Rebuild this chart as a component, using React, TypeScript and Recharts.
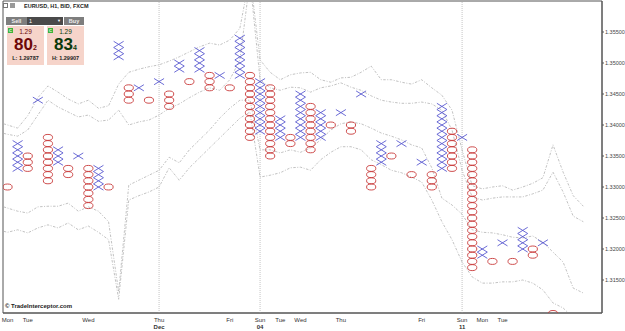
import React from "react";
import {
  ComposedChart,
  XAxis,
  YAxis,
  Scatter,
  Line,
  ReferenceLine,
  ReferenceArea,
} from "recharts";

// point & figure, EURUSD H1, box 0.001
const BOX = 0.001;

const colType = [
  "O", "X", "O", "X", "O", "X", "O", "X", "O", "X",
  "O", "X", "O", "X", "O", "X", "O", "X", "O", "X",
  "O", "X", "O", "X", "O", "X", "O", "X", "O", "X",
  "O", "X", "O", "X", "O", "X", "O", "X", "O", "X",
  "O", "X", "O", "X", "O", "X", "O", "X", "O", "X",
  "O", "X", "O", "X", "O",
];
const colLow = [
  1.33, 1.333, 1.333, 1.344, 1.331, 1.334, 1.332, 1.335, 1.327, 1.33,
  1.33, 1.351, 1.344, 1.346, 1.344, 1.347, 1.343, 1.349, 1.347, 1.349,
  1.346, 1.348, 1.346, 1.348, 1.338, 1.339, 1.335, 1.338, 1.337, 1.338,
  1.336, 1.338, 1.34, 1.342, 1.339, 1.345, 1.33, 1.334, 1.335, 1.337,
  1.332, 1.334, 1.33, 1.333, 1.333, 1.338, 1.317, 1.319, 1.318, 1.321,
  1.318, 1.32, 1.319, 1.321, 1.3096,
];
const colHigh = [
  1.33, 1.337, 1.335, 1.344, 1.338, 1.336, 1.333, 1.335, 1.333, 1.333,
  1.33, 1.353, 1.346, 1.346, 1.344, 1.347, 1.345, 1.35, 1.347, 1.352,
  1.348, 1.348, 1.346, 1.354, 1.348, 1.347, 1.346, 1.341, 1.338, 1.345,
  1.343, 1.342, 1.34, 1.342, 1.34, 1.345, 1.333, 1.337, 1.335, 1.337,
  1.332, 1.334, 1.332, 1.343, 1.339, 1.338, 1.336, 1.32, 1.318, 1.321,
  1.318, 1.323, 1.32, 1.321, 1.3096,
];

// band lines, one value per column starting at column -1
const bandStart = -1;
const upperOuter = [
  1.3405, 1.34, 1.3395, 1.3415, 1.3444, 1.3463, 1.3453, 1.3442, 1.3434, 1.344,
  1.3427, 1.3431, 1.3466, 1.3485, 1.349, 1.3494, 1.3497, 1.3503, 1.351, 1.3518,
  1.3526, 1.3532, 1.3529, 1.3537, 1.3556, 1.3642, 1.3505, 1.3485, 1.3473, 1.3481,
  1.3484, 1.3485, 1.3473, 1.3469, 1.3476, 1.3477, 1.3485, 1.3495, 1.3473, 1.3473,
  1.3469, 1.3466, 1.3473, 1.346, 1.3448, 1.3424, 1.336, 1.3302, 1.3297, 1.33,
  1.3302, 1.3295, 1.33, 1.3306, 1.3315, 1.3368, 1.3324, 1.3286, 1.3269,
];
const upperInner = [
  1.3389, 1.3385, 1.3382, 1.3392, 1.3416, 1.344, 1.3429, 1.3421, 1.3413, 1.3416,
  1.3406, 1.3408, 1.3424, 1.34, 1.3405, 1.3408, 1.3416, 1.3427, 1.3434, 1.3444,
  1.3453, 1.346, 1.3456, 1.3473, 1.3505, 1.3634, 1.3473, 1.346, 1.3456, 1.3461,
  1.346, 1.3453, 1.346, 1.3463, 1.3468, 1.3461, 1.3456, 1.3447, 1.344, 1.3437,
  1.3435, 1.3435, 1.3437, 1.3434, 1.3424, 1.3392, 1.3327, 1.3284, 1.3279, 1.3282,
  1.3284, 1.3284, 1.3284, 1.3289, 1.3295, 1.3324, 1.3292, 1.3253, 1.3244,
];
const lowerInner = [
  1.3271, 1.3266, 1.3261, 1.3258, 1.3268, 1.3269, 1.3269, 1.3274, 1.3261, 1.3268,
  1.3261, 1.3244, 1.3131, 1.3303, 1.3311, 1.3319, 1.3327, 1.3348, 1.3339, 1.336,
  1.3376, 1.3392, 1.3411, 1.3427, 1.344, 1.344, 1.336, 1.336, 1.3355, 1.336,
  1.3356, 1.3363, 1.3376, 1.3392, 1.3402, 1.3405, 1.3402, 1.3395, 1.3387, 1.3382,
  1.3376, 1.3368, 1.3363, 1.3331, 1.3282, 1.3271, 1.3256, 1.3231, 1.3227, 1.3226,
  1.3223, 1.3219, 1.3218, 1.3221, 1.3211, 1.3195, 1.3179, 1.3137, 1.3129,
];
const lowerOuter = [
  1.3231, 1.3227, 1.3231, 1.3226, 1.3234, 1.3239, 1.3234, 1.3242, 1.3231, 1.3237,
  1.3227, 1.3215, 1.3119, 1.3279, 1.3286, 1.3292, 1.33, 1.3331, 1.3311, 1.3331,
  1.3347, 1.3363, 1.3379, 1.3395, 1.3411, 1.3421, 1.3316, 1.3319, 1.3323, 1.3331,
  1.3332, 1.3327, 1.3344, 1.3356, 1.3365, 1.3365, 1.336, 1.3344, 1.3336, 1.3327,
  1.3323, 1.3316, 1.3308, 1.3279, 1.3244, 1.3215, 1.3179, 1.3155, 1.3145, 1.3145,
  1.3147, 1.3147, 1.315, 1.3145, 1.3134, 1.3113, 1.3105, 1.3089, 1.3082,
];

const dayTicks = [0, 2, 8, 15, 22, 25, 27, 29, 33, 41, 45, 47, 49];
const dayLabels = ["Mon", "Tue", "Wed", "Thu", "Fri", "Sun", "Tue", "Wed", "Thu", "Fri", "Sun", "Mon", "Tue"];
const dateLabels = ["", "", "", "Dec", "", "04", "", "", "", "", "11", "", ""];
const priceTicks = [1.315, 1.32, 1.325, 1.33, 1.335, 1.34, 1.345, 1.35, 1.355];

const X_DOMAIN = [-0.45, 58.85];
const Y_DOMAIN = [1.30968, 1.36];

const xBoxes: { i: number; p: number }[] = [];
const oBoxes: { i: number; p: number }[] = [];
colType.forEach((t, i) => {
  const n = Math.round((colHigh[i] - colLow[i]) / BOX);
  for (let k = 0; k <= n; k++) {
    (t === "X" ? xBoxes : oBoxes).push({ i, p: colLow[i] + k * BOX });
  }
});

const toSeries = (vals: number[]) => vals.map((v, j) => ({ i: bandStart + j, v }));
const bands = [upperOuter, upperInner, lowerInner, lowerOuter].map(toSeries);
const separators = dayTicks.filter((_, k) => dateLabels[k] !== "");

const FONT = "'Liberation Sans', Arial, sans-serif";

const XMark = (props: any) => {
  const { cx, cy } = props;
  if (cx == null || cy == null) return null;
  return (
    <g stroke="#5a5ad0" strokeWidth={0.9}>
      <line x1={cx - 5} y1={cy - 3.1} x2={cx + 5} y2={cy + 3.1} />
      <line x1={cx - 5} y1={cy + 3.1} x2={cx + 5} y2={cy - 3.1} />
    </g>
  );
};

const OMark = (props: any) => {
  const { cx, cy } = props;
  if (cx == null || cy == null) return null;
  return <ellipse cx={cx} cy={cy} rx={4.6} ry={3} fill="none" stroke="#c83a3a" strokeWidth={0.9} />;
};

const DayTick = ({ x, y, payload }: any) => {
  const k = dayTicks.indexOf(payload.value);
  return (
    <g fontFamily={FONT} fontSize={6} fill="#333">
      <text x={x} y={y + 7} textAnchor="middle">{dayLabels[k]}</text>
      {dateLabels[k] && (
        <text x={x} y={y + 14} textAnchor="middle" fontWeight="bold">{dateLabels[k]}</text>
      )}
    </g>
  );
};

function PriceBox({ left, color, big, small, line }: { left: number; color: string; big: string; small: string; line: string }) {
  return (
    <div style={{ position: "absolute", left, top: 26, width: 37, height: 39, background: "#f6d4ca" }}>
      <div style={{ position: "absolute", left: 1, top: 2, width: 5, height: 5, background: "#3cb43c", color: "#fff", fontSize: 4, lineHeight: "5px", textAlign: "center", fontWeight: "bold" }}>C</div>
      <div style={{ position: "absolute", left: 0, top: 2, width: 37, textAlign: "center", fontSize: 6.5, lineHeight: "7px", color }}>1.29</div>
      <div style={{ position: "absolute", left: 0, top: 12, width: 37, height: 14, textAlign: "center", fontSize: 17, fontWeight: "bold", color, lineHeight: "14px" }}>
        {big}
        <span style={{ fontSize: 7, lineHeight: "7px" }}>{small}</span>
      </div>
      <div style={{ position: "absolute", left: 0, top: 29, width: 37, textAlign: "center", fontSize: 5.5, lineHeight: "6px", fontWeight: "bold", color: "#222" }}>{line}</div>
    </div>
  );
}

export default function App() {
  return (
    <div style={{ position: "absolute", left: 0, top: 0, width: 625, height: 331, background: "#fff", fontFamily: FONT }}>
      <ComposedChart width={625} height={331} margin={{ top: 1, right: 0, bottom: 0, left: 3 }}>
        <XAxis
          type="number"
          dataKey="i"
          domain={X_DOMAIN}
          allowDataOverflow
          ticks={dayTicks}
          interval={0}
          tick={<DayTick />}
          tickLine={false}
          tickSize={0}
          height={18}
          axisLine={{ stroke: "#555" }}
        />
        <YAxis
          type="number"
          orientation="right"
          domain={Y_DOMAIN}
          allowDataOverflow
          ticks={priceTicks}
          tickFormatter={(v: number) => v.toFixed(5)}
          tick={{ fontSize: 5.5, fill: "#444", fontFamily: FONT }}
          tickSize={2}
          tickMargin={1}
          tickLine={{ stroke: "#555" }}
          axisLine={{ stroke: "#555" }}
          width={23}
        />
        <ReferenceArea x1={X_DOMAIN[0]} x2={X_DOMAIN[1]} y1={Y_DOMAIN[0]} y2={Y_DOMAIN[1]} fill="none" stroke="#555" strokeOpacity={1} />
        {separators.map((s) => (
          <ReferenceLine key={s} x={s} stroke="#c4c4c4" strokeDasharray="1 1" />
        ))}
        {bands.map((d, k) => (
          <Line
            key={k}
            data={d}
            dataKey="v"
            type="linear"
            dot={false}
            activeDot={false}
            stroke="#b2b2b2"
            strokeWidth={0.8}
            strokeDasharray="2.5 1.5 1 1.5"
            isAnimationActive={false}
          />
        ))}
        <Scatter data={xBoxes} dataKey="p" shape={<XMark />} isAnimationActive={false} />
        <Scatter data={oBoxes} dataKey="p" shape={<OMark />} isAnimationActive={false} />
      </ComposedChart>

      {/* header widget */}
      <div style={{ position: "absolute", left: 3, top: 3, width: 5, height: 5, border: "1px solid #777", boxSizing: "border-box" }} />
      <div style={{ position: "absolute", left: 10, top: 3, width: 5, height: 5, background: "#999" }} />
      <div style={{ position: "absolute", left: 24, top: 3, fontSize: 5.5, fontWeight: "bold", color: "#222", whiteSpace: "nowrap" }}>
        EURUSD, H1, BID, FXCM
      </div>
      <div style={{ position: "absolute", left: 6, top: 17, width: 21, height: 8, background: "#7e7e7e", color: "#eee", fontSize: 5.5, fontWeight: "bold", lineHeight: "8px", textAlign: "center" }}>Sell</div>
      <div style={{ position: "absolute", left: 27, top: 17, width: 36, height: 8, background: "#4a4a4a", color: "#fff", fontSize: 5.5, lineHeight: "8px" }}>
        <span style={{ marginLeft: 2 }}>1</span>
        <span style={{ position: "absolute", right: 2, fontSize: 4 }}>▼</span>
      </div>
      <div style={{ position: "absolute", left: 64, top: 17, width: 20, height: 8, background: "#7e7e7e", color: "#eee", fontSize: 5.5, fontWeight: "bold", lineHeight: "8px", textAlign: "center" }}>Buy</div>
      <PriceBox left={7} color="#6e0808" big="80" small="2" line="L: 1.29787" />
      <PriceBox left={47} color="#0b3a0b" big="83" small="4" line="H: 1.29907" />

      <div style={{ position: "absolute", left: 5, top: 303, fontSize: 6, fontWeight: "bold", color: "#222", whiteSpace: "nowrap" }}>
        © TradeInterceptor.com
      </div>
    </div>
  );
}
